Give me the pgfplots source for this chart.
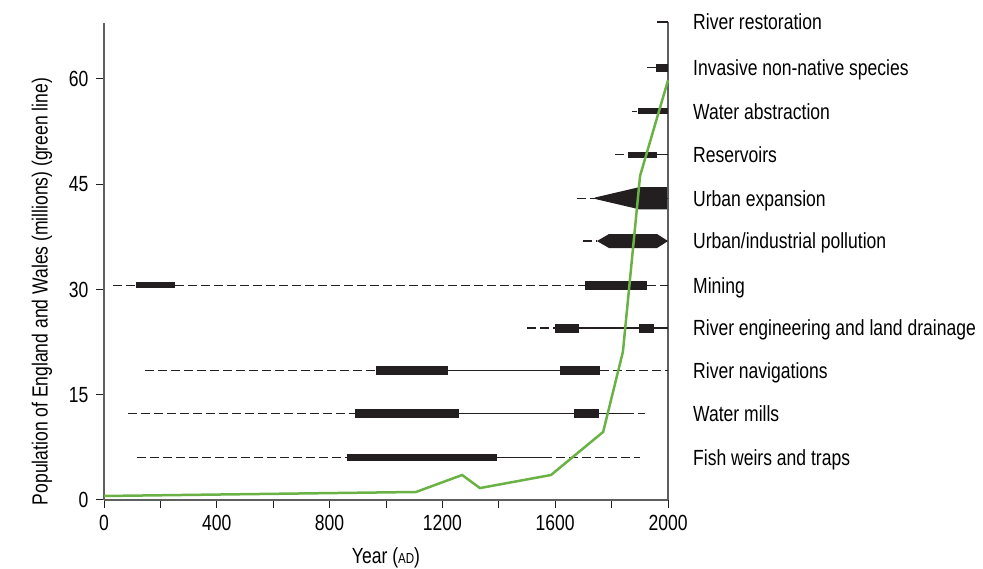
\documentclass[border=0pt]{standalone}
\usepackage{fontspec}
\setmainfont{Liberation Sans}[FakeStretch=0.8]
\usepackage{pgfplots}
\pgfplotsset{compat=1.18}
\definecolor{popgreen}{RGB}{106,178,70}
\definecolor{barblack}{RGB}{35,31,32}
\definecolor{axisgray}{RGB}{95,95,95}
\pgfplotsset{
  rowdash/.style={barblack, line width=1.2bp, dash pattern=on 9bp off 4bp},
  rowsolid/.style={barblack, line width=1.2bp},
  rowbar/.style={barblack, line width=#1},
}
\tikzset{rowlab/.style={anchor=base west, inner sep=0pt, xshift=25bp, yshift=-7.9bp}}
\begin{document}
\fontsize{22}{25}\selectfont
\begin{tikzpicture}[x=1bp,y=1bp]
\path[use as bounding box] (0,0) rectangle (983,569);
\begin{axis}[
  at={(104bp,69bp)}, anchor=south west,
  scale only axis, width=564bp, height=477.2bp,
  xmin=0, xmax=2000, ymin=0, ymax=68,
  axis x line=bottom, axis y line=left,
  axis line style={-, axisgray, line width=1.2bp},
  tick align=outside,
  xtick={0,400,...,2000}, minor xtick={200,600,...,1800},
  ytick={0,15,...,60},
  major tick length=8bp, minor tick length=8bp,
  tick style={barblack, line width=1bp},
  /pgf/number format/assume math mode=true,
  /pgf/number format/set thousands separator={},
  clip=false, no markers,
  xlabel={Year ({\fontsize{14.5}{16}\selectfont AD})},
  ylabel={Population of England and Wales (millions) (green line)},
  every axis x label/.style={at={(axis description cs:0.5,-0.1216)}, anchor=center},
  every axis y label/.style={at={(axis description cs:-0.11,0.437)}, anchor=center, rotate=90},
]
% right frame line
\addplot[axisgray, line width=1.2bp] coordinates {(2000,0) (2000,68.1)};

% Fish weirs and traps
\addplot[rowdash] coordinates {(117,6.0) (862,6.0)};
\addplot[rowbar=7bp] coordinates {(862,6.0) (1394,6.0)};
\addplot[rowsolid] coordinates {(1394,6.0) (1557,6.0)};
\addplot[rowdash] coordinates {(1557,6.0) (1901,6.0)};

% Water mills
\addplot[rowdash] coordinates {(85,12.3) (890,12.3)};
\addplot[rowbar=9bp] coordinates {(890,12.3) (1259,12.3)};
\addplot[rowsolid] coordinates {(1259,12.3) (1848,12.3)};
\addplot[rowbar=9bp] coordinates {(1667,12.3) (1755,12.3)};
\addplot[rowdash] coordinates {(1848,12.3) (1918,12.3)};

% River navigations
\addplot[rowdash] coordinates {(145,18.4) (965,18.4)};
\addplot[rowbar=9bp] coordinates {(965,18.4) (1220,18.4)};
\addplot[rowsolid] coordinates {(1220,18.4) (1617,18.4)};
\addplot[rowbar=9bp] coordinates {(1617,18.4) (1759,18.4)};
\addplot[rowdash] coordinates {(1759,18.4) (2000,18.4)};

% River engineering and land drainage
\addplot[rowdash] coordinates {(1500,24.5) (1599,24.5)};
\addplot[rowbar=9bp] coordinates {(1599,24.5) (1684,24.5)};
\addplot[rowsolid] coordinates {(1684,24.5) (2000,24.5)};
\addplot[rowbar=9bp] coordinates {(1897,24.5) (1950,24.5)};

% Mining
\addplot[rowdash] coordinates {(32,30.6) (113,30.6)};
\addplot[rowbar=6bp] coordinates {(113,30.6) (252,30.6)};
\addplot[rowdash] coordinates {(252,30.6) (1706,30.6)};
\addplot[rowbar=9bp] coordinates {(1706,30.6) (1926,30.6)};
\addplot[rowdash] coordinates {(1926,30.6) (2000,30.6)};

% Urban/industrial pollution
\addplot[rowdash] coordinates {(1699,36.9) (1748,36.9)};
\addplot[fill=barblack, draw=none] coordinates {(1748,36.9) (1791,37.9) (1961,37.9) (2000,36.9) (1961,35.9) (1791,35.9)};

% Urban expansion
\addplot[rowdash] coordinates {(1677,43.0) (1741,43.0)};
\addplot[fill=barblack, draw=none] coordinates {(1741,43.1) (1897,44.57) (1996,44.57) (1996,41.43) (1897,41.43) (1741,42.9)};
\addplot[rowsolid] coordinates {(1996,43.0) (2000,43.0)};

% Reservoirs
\addplot[rowdash] coordinates {(1812,49.2) (1858,49.2)};
\addplot[rowbar=6bp] coordinates {(1858,49.2) (1961,49.2)};
\addplot[rowsolid] coordinates {(1961,49.2) (2000,49.2)};

% Water abstraction
\addplot[rowsolid] coordinates {(1872,55.4) (1890,55.4)};
\addplot[rowbar=6bp] coordinates {(1894,55.4) (2000,55.4)};

% Invasive non-native species
\addplot[rowsolid] coordinates {(1926,61.6) (1957,61.6)};
\addplot[rowbar=8bp] coordinates {(1957,61.6) (2000,61.6)};

% River restoration
\addplot[rowsolid] coordinates {(1961,68.1) (2000,68.1)};

% population (green line)
\addplot[popgreen, line width=2.5bp] coordinates {
  (0,0.57) (1106,1.14) (1270,3.56) (1333,1.7) (1585,3.56)
  (1770,9.7) (1840,21.1) (1901,46.2) (2000,59.8)
};

\node[rowlab] at (axis cs:2000,68.1) {River restoration};
\node[rowlab] at (axis cs:2000,61.6) {Invasive non-native species};
\node[rowlab] at (axis cs:2000,55.4) {Water abstraction};
\node[rowlab] at (axis cs:2000,49.2) {Reservoirs};
\node[rowlab] at (axis cs:2000,43.0) {Urban expansion};
\node[rowlab] at (axis cs:2000,36.9) {Urban/industrial pollution};
\node[rowlab] at (axis cs:2000,30.6) {Mining};
\node[rowlab] at (axis cs:2000,24.5) {River engineering and land drainage};
\node[rowlab] at (axis cs:2000,18.4) {River navigations};
\node[rowlab] at (axis cs:2000,12.3) {Water mills};
\node[rowlab] at (axis cs:2000,6.0) {Fish weirs and traps};
\end{axis}
\end{tikzpicture}
\end{document}
